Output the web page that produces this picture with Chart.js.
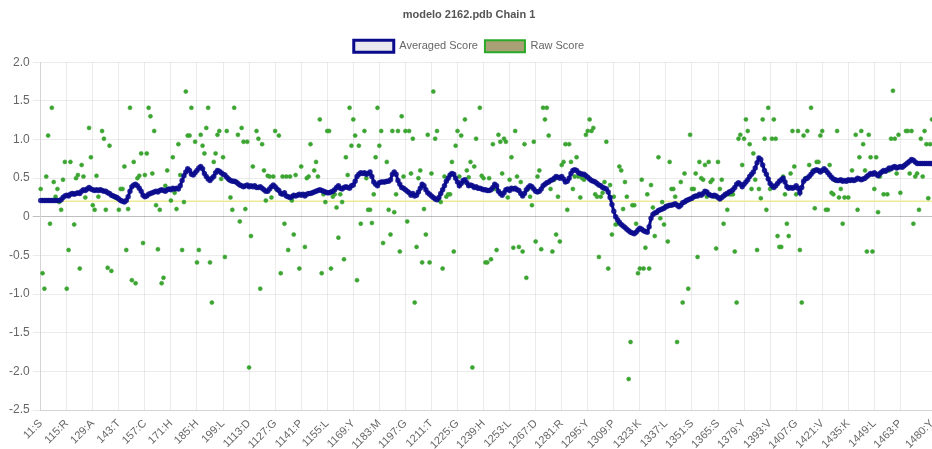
<!DOCTYPE html>
<html><head><meta charset="utf-8">
<script src="https://cdn.jsdelivr.net/npm/chart.js@4.4.1/dist/chart.umd.min.js"></script>
<style>html,body{margin:0;padding:0;background:#fff}#wrap{width:932px;height:449px}</style>
</head><body><div id="wrap"><canvas id="c" width="932" height="449"></canvas></div>
<script>
const chartTitle = "modelo 2162.pdb Chain 1";
const tickLabels = ["11:S","115:R","129:A","143:T","157:C","171:H","185:H","199:L","1113:D","1127:G","1141:P","1155:L","1169:Y","1183:M","1197:G","1211:T","1225:G","1239:H","1253:L","1267:D","1281:R","1295:Y","1309:P","1323:K","1337:L","1351:S","1365:S","1379:Y","1393:V","1407:G","1421:V","1435:K","1449:L","1463:P","1480:Y"];
const yTicks = [2.0,1.5,1.0,0.5,0,-0.5,-1.0,-1.5,-2.0,-2.5];
const threshold = 0.2;
const rawScore = [
0.36,-0.73,-0.93,0.52,1.05,-0.09,1.41,0.45,0.26,0.36,
0.19,0.09,0.48,0.71,-0.93,-0.43,0.71,0.30,-0.10,0.50,
0.54,-0.67,0.67,0.52,0.25,0.36,1.15,0.77,0.15,0.09,
0.53,0.26,0.35,1.11,1.01,0.09,-0.66,0.92,-0.70,0.27,
0.25,0.24,0.09,0.36,0.36,0.65,-0.43,0.10,1.41,-0.82,
0.71,-0.86,0.50,0.53,0.82,-0.34,0.54,0.82,1.41,1.30,
0.56,1.11,0.15,-0.42,0.09,-0.86,-0.79,0.40,0.60,0.36,
0.21,0.77,0.31,0.10,0.94,0.54,-0.43,0.19,1.62,1.05,
1.05,1.41,0.55,0.97,-0.59,-0.43,1.06,0.92,0.82,1.15,
1.41,-0.59,-1.11,0.71,0.82,1.06,1.11,0.49,0.77,-0.52,
1.11,0.48,0.25,0.09,1.41,0.45,1.06,-0.06,1.15,0.97,
0.10,0.97,-1.95,-0.25,0.65,0.40,1.11,1.01,-0.93,0.94,
0.60,0.21,0.53,0.52,0.25,0.52,1.11,0.35,1.05,-0.73,
0.52,-0.09,0.52,-0.43,0.52,0.21,-0.23,0.54,0.28,-0.67,
0.65,0.29,-0.39,0.50,0.52,0.94,0.31,0.60,0.71,0.52,
1.26,-0.73,0.29,0.19,1.11,1.11,-0.67,0.26,0.29,0.12,
-0.27,0.29,0.19,-0.55,0.77,0.54,1.41,0.92,1.26,1.05,
-0.82,0.92,-0.09,0.56,1.11,0.50,0.09,0.09,-0.08,0.29,
0.77,1.41,0.92,1.11,-0.34,0.45,0.71,0.09,-0.23,1.11,
0.06,0.29,1.11,-0.45,1.30,0.52,1.11,-0.06,1.11,0.56,
1.01,-1.11,-0.39,0.50,0.60,-0.59,0.10,-0.23,1.06,-0.59,
0.56,1.62,1.01,1.11,0.22,0.19,-0.67,0.52,0.26,0.29,
0.29,0.71,-0.45,0.92,1.11,0.52,1.05,0.45,1.26,0.60,
0.51,0.71,-1.95,0.65,1.01,0.37,1.41,0.53,0.50,-0.59,
-0.59,0.50,-0.55,0.94,0.36,-0.43,1.06,0.97,0.56,1.01,
0.97,0.25,0.48,0.77,-0.40,1.11,0.52,-0.39,0.45,-0.45,
0.94,-0.79,0.36,0.26,0.15,0.97,-0.32,0.52,0.60,-0.42,
1.41,1.26,1.41,1.05,0.36,-0.45,0.48,-0.23,0.26,-0.32,
0.67,0.71,0.94,0.09,0.94,0.71,0.36,0.52,0.77,0.52,
0.25,0.50,0.48,1.06,1.11,1.26,1.11,1.15,0.29,0.26,
-0.52,0.26,0.31,0.45,0.97,-0.67,0.41,-0.23,0.26,-0.10,
-0.09,0.65,0.60,0.10,0.45,0.26,-2.10,-1.62,0.15,0.15,
-0.09,-0.73,-0.67,0.48,-0.67,-0.40,0.29,-0.67,0.41,0.12,
-0.25,0.05,0.77,-0.02,0.19,-0.10,0.14,-0.32,0.71,0.36,
0.36,0.26,-1.62,0.15,0.45,-1.11,0.56,0.20,-0.93,1.06,
0.36,0.36,0.56,-0.52,0.71,0.50,0.48,0.67,0.26,0.71,
0.45,0.48,0.26,-0.41,0.71,0.36,0.48,-0.09,0.28,0.09,
0.29,0.29,0.29,-0.45,-1.11,1.01,1.06,0.67,1.01,1.26,
1.11,0.94,0.36,0.82,0.48,-0.43,0.36,0.24,1.26,1.01,
0.09,1.41,0.36,1.01,1.26,1.01,-0.25,-0.39,-0.39,0.52,
0.29,-0.09,-0.25,0.56,1.11,0.65,0.29,1.11,-0.43,-1.11,
1.05,0.50,1.11,0.67,1.41,0.60,0.11,0.71,0.71,1.05,
1.11,0.60,0.09,0.09,0.67,0.31,0.29,0.47,1.11,0.25,
0.36,-0.09,0.25,0.46,0.25,0.47,0.60,0.47,1.06,0.09,
0.77,1.11,0.94,0.60,-0.45,1.06,0.77,-0.45,0.36,0.77,
0.06,0.52,0.58,0.29,0.59,0.29,0.60,1.01,1.63,1.01,
0.56,1.06,0.31,0.64,0.66,1.11,1.11,0.56,1.11,-0.09,
0.52,0.56,0.09,1.01,0.52,1.11,0.94,0.24,0.94,1.26
];
const avgScore = [
0.21,0.21,0.21,0.21,0.21,0.21,0.21,0.21,0.21,0.21,
0.21,0.22,0.25,0.27,0.28,0.27,0.29,0.30,0.29,0.30,
0.31,0.30,0.33,0.35,0.34,0.36,0.38,0.36,0.35,0.34,
0.35,0.34,0.35,0.34,0.33,0.33,0.31,0.30,0.28,0.27,
0.26,0.25,0.23,0.21,0.20,0.19,0.21,0.26,0.33,0.39,
0.41,0.42,0.40,0.37,0.33,0.28,0.26,0.27,0.29,0.30,
0.31,0.32,0.33,0.32,0.34,0.35,0.34,0.33,0.35,0.36,
0.35,0.37,0.36,0.37,0.36,0.40,0.47,0.53,0.58,0.62,
0.60,0.55,0.54,0.57,0.60,0.63,0.65,0.62,0.56,0.52,
0.49,0.47,0.50,0.52,0.57,0.60,0.59,0.57,0.55,0.54,
0.51,0.49,0.47,0.46,0.46,0.45,0.43,0.41,0.40,0.39,
0.40,0.41,0.39,0.40,0.39,0.40,0.38,0.38,0.39,0.37,
0.35,0.33,0.33,0.36,0.39,0.41,0.39,0.36,0.34,0.30,
0.29,0.31,0.27,0.26,0.25,0.26,0.28,0.27,0.28,0.29,
0.28,0.29,0.27,0.29,0.30,0.30,0.31,0.32,0.33,0.34,
0.35,0.34,0.33,0.32,0.31,0.31,0.32,0.33,0.35,0.38,
0.40,0.37,0.36,0.38,0.39,0.38,0.37,0.40,0.41,0.46,
0.52,0.55,0.57,0.56,0.57,0.55,0.56,0.58,0.52,0.45,
0.42,0.40,0.44,0.45,0.45,0.45,0.46,0.46,0.48,0.55,
0.58,0.55,0.47,0.42,0.38,0.37,0.35,0.33,0.31,0.28,
0.30,0.27,0.28,0.32,0.37,0.42,0.40,0.35,0.31,0.29,
0.27,0.25,0.23,0.22,0.25,0.30,0.35,0.40,0.46,0.50,
0.54,0.56,0.55,0.50,0.45,0.40,0.43,0.47,0.48,0.44,
0.40,0.41,0.40,0.38,0.39,0.37,0.37,0.36,0.35,0.35,
0.34,0.34,0.35,0.38,0.42,0.40,0.33,0.30,0.28,0.31,
0.35,0.36,0.34,0.37,0.36,0.37,0.35,0.34,0.30,0.27,
0.30,0.35,0.38,0.40,0.39,0.36,0.33,0.32,0.33,0.36,
0.40,0.42,0.44,0.45,0.47,0.48,0.50,0.52,0.51,0.50,
0.52,0.49,0.45,0.46,0.50,0.56,0.60,0.61,0.60,0.57,
0.56,0.55,0.55,0.53,0.51,0.49,0.47,0.46,0.45,0.43,
0.41,0.40,0.38,0.37,0.36,0.32,0.25,0.16,0.07,0.00,
-0.04,-0.07,-0.10,-0.12,-0.14,-0.16,-0.18,-0.20,-0.21,-0.22,
-0.20,-0.17,-0.15,-0.16,-0.18,-0.19,-0.20,-0.13,-0.02,0.03,
0.05,0.06,0.08,0.09,0.10,0.11,0.13,0.14,0.15,0.15,
0.16,0.17,0.15,0.13,0.15,0.18,0.19,0.21,0.22,0.23,
0.24,0.26,0.27,0.27,0.29,0.28,0.30,0.33,0.32,0.29,
0.28,0.27,0.28,0.27,0.25,0.23,0.25,0.27,0.29,0.30,
0.32,0.33,0.35,0.38,0.42,0.44,0.42,0.39,0.42,0.45,
0.48,0.52,0.55,0.58,0.63,0.70,0.76,0.74,0.67,0.60,
0.55,0.49,0.43,0.40,0.38,0.40,0.43,0.46,0.48,0.50,
0.45,0.39,0.37,0.38,0.37,0.38,0.40,0.37,0.31,0.38,
0.46,0.49,0.50,0.52,0.55,0.58,0.60,0.61,0.60,0.58,
0.60,0.62,0.60,0.57,0.54,0.51,0.49,0.48,0.47,0.47,
0.48,0.46,0.47,0.46,0.48,0.47,0.48,0.47,0.48,0.50,
0.49,0.48,0.49,0.50,0.52,0.54,0.56,0.55,0.57,0.55,
0.53,0.56,0.58,0.60,0.59,0.61,0.63,0.62,0.64,0.65,
0.63,0.64,0.65,0.64,0.66,0.68,0.70,0.72,0.74,0.73,
0.71,0.69,0.69,0.69,0.69,0.69,0.69,0.69,0.69,0.69
];

const labelMap = {};
tickLabels.forEach(l => { labelMap[parseInt(l.split(":")[0].slice(1), 10) - 1] = l; });
const categories = rawScore.map((_, i) => labelMap[i] || ("1" + (i + 1)));
const lastCat = categories[categories.length - 1];

Chart.defaults.font.family = "'Liberation Sans', Arial, Helvetica, sans-serif";
Chart.defaults.font.size = 12;
Chart.defaults.color = "#666";

new Chart(document.getElementById("c"), {
  type: "line",
  data: {
    labels: categories,
    datasets: [
      {
        label: "Averaged Score",
        data: avgScore,
        borderColor: "rgb(10,10,140)",
        backgroundColor: "rgb(232,232,238)",
        borderWidth: 3,
        pointRadius: 2,
        pointBorderWidth: 1.5,
        pointBackgroundColor: "rgba(20,20,150,0.7)",
        pointBorderColor: "rgba(10,10,140,0.8)",
        fill: false,
        tension: 0,
        order: 0
      },
      {
        label: "Raw Score",
        data: rawScore,
        showLine: false,
        borderColor: "rgb(40,170,40)",
        backgroundColor: "rgb(170,160,118)",
        borderWidth: 2,
        pointRadius: 2,
        pointBorderWidth: 1,
        pointBackgroundColor: "rgb(60,165,50)",
        pointBorderColor: "rgba(60,165,50,0.6)",
        order: 1
      },
      {
        label: "threshold",
        data: [{x: categories[0], y: threshold}, {x: lastCat, y: threshold}],
        borderColor: "rgb(238,234,150)",
        borderWidth: 1.5,
        pointRadius: 0,
        fill: false,
        order: 2
      }
    ]
  },
  options: {
    responsive: false,
    devicePixelRatio: 1,
    animation: false,
    layout: {autoPadding: false, padding: {left: 6, right: 0, top: 0, bottom: 0}},
    plugins: {
      title: {
        display: true,
        text: chartTitle,
        font: {size: 11, weight: "bold"},
        color: "#555",
        padding: {top: 8, bottom: 12}
      },
      legend: {
        labels: {
          font: {size: 11},
          boxWidth: 40,
          boxHeight: 12,
          padding: 7,
          filter: (item) => item.datasetIndex !== 2
        }
      },
      tooltip: {enabled: false}
    },
    scales: {
      x: {
        afterFit: (s) => { s.paddingLeft = 0; s.paddingRight = 0; s.height = 39; },
        ticks: {
          autoSkip: false,
          minRotation: 45,
          maxRotation: 45,
          padding: 7,
          font: {size: 11},
          callback: (v, i) => (labelMap[i] !== undefined ? labelMap[i] : null)
        },
        grid: {
          drawTicks: false,
          color: "rgba(0,0,0,0.08)"
        }
      },
      y: {
        min: -2.5,
        max: 2.0,
        ticks: {
          stepSize: 0.5,
          font: {size: 12},
          callback: (v) => { const t = yTicks.find(a => Math.abs(a - v) < 1e-9); return t === undefined ? null : (t === 0 ? "0" : t.toFixed(1)); }
        },
        grid: {
          color: (ctx) => (ctx.tick && ctx.tick.value === 0 ? "rgba(0,0,0,0.25)" : "rgba(0,0,0,0.08)")
        }
      }
    }
  }
});
</script>
</body></html>
